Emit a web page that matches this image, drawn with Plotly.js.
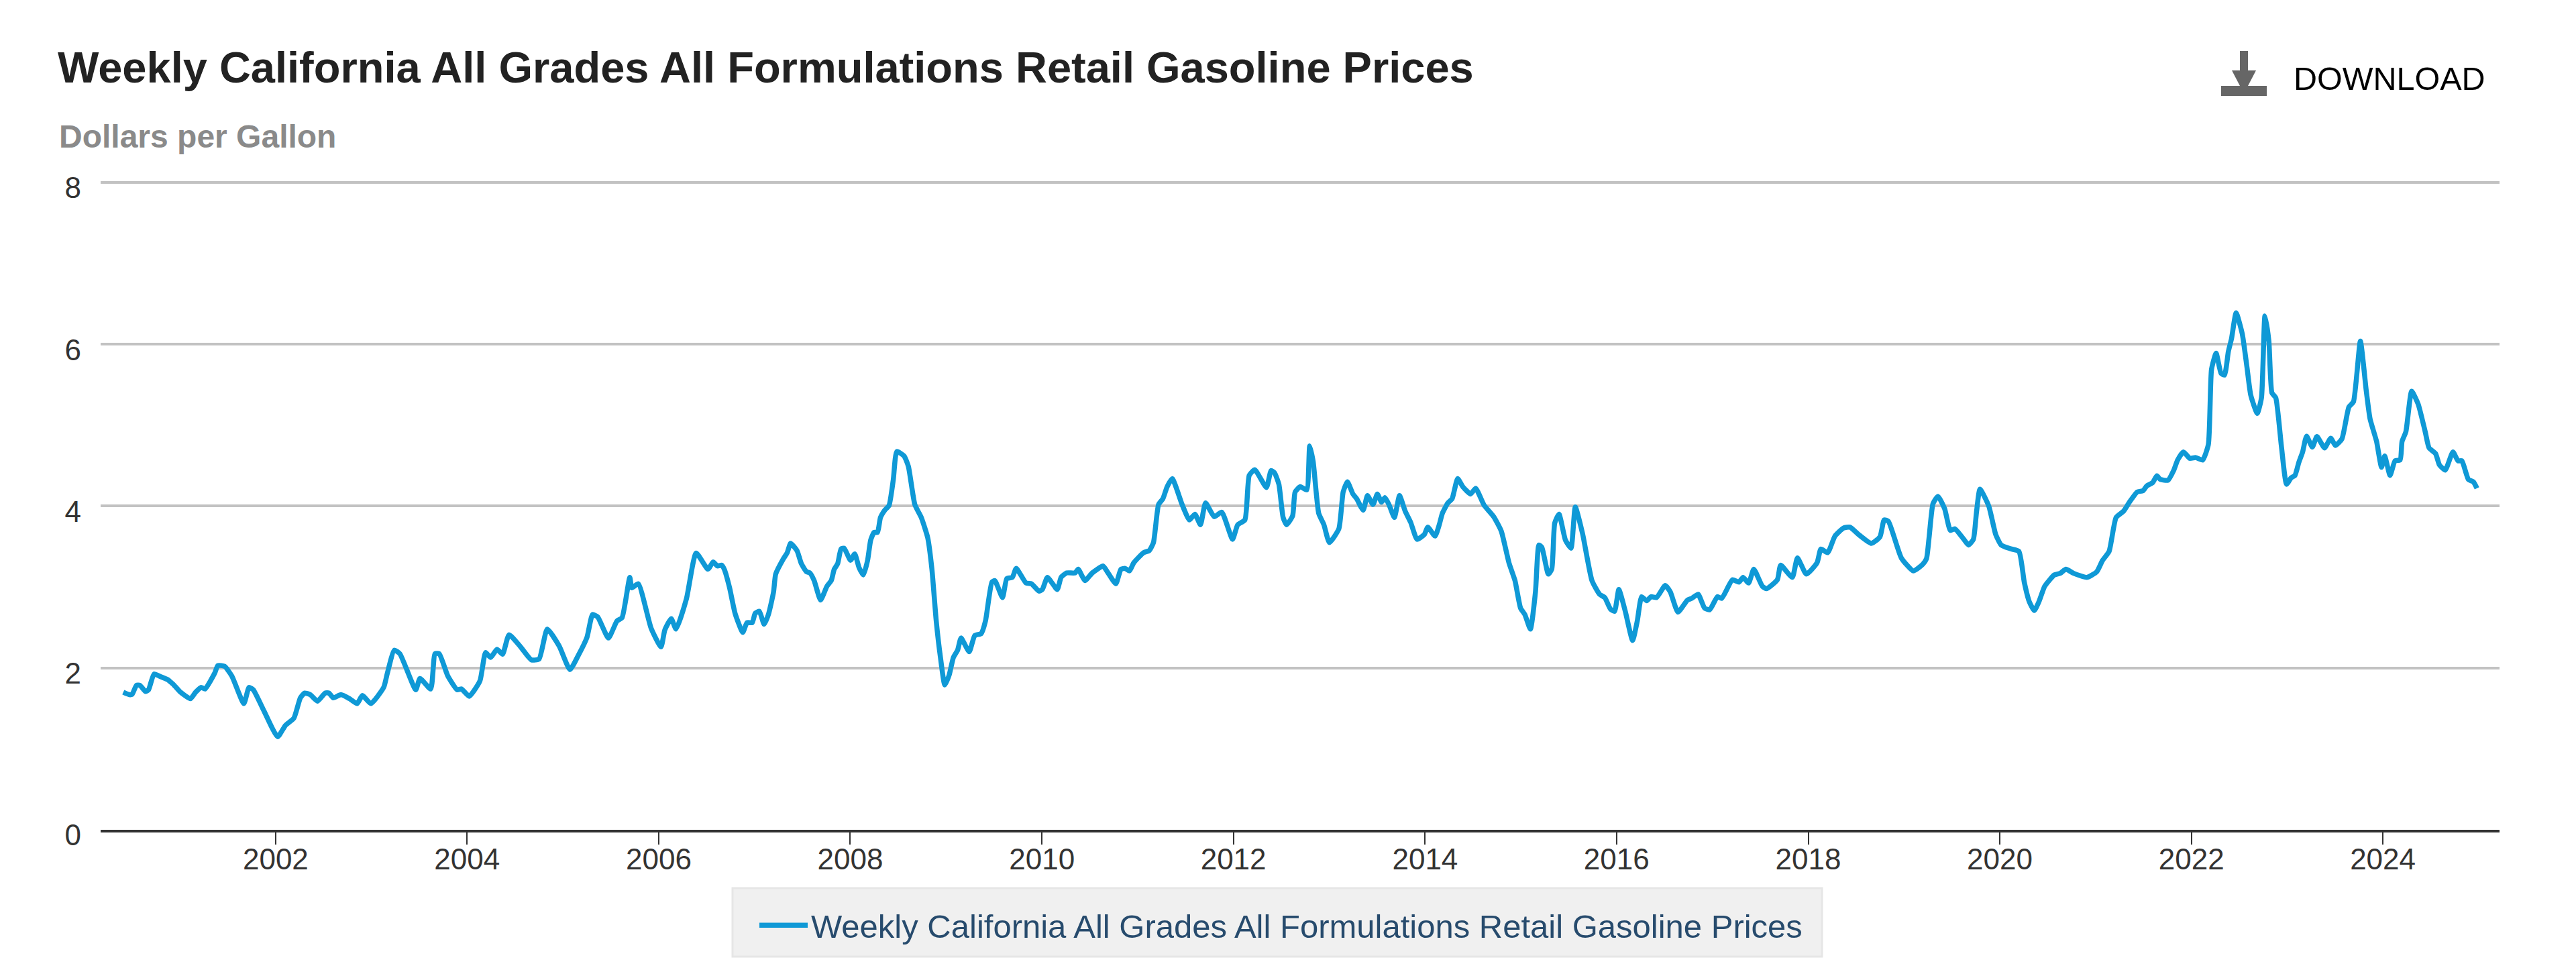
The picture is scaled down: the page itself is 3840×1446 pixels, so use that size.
<!DOCTYPE html>
<html><head><meta charset="utf-8">
<script src="https://cdn.plot.ly/plotly-3.0.1.min.js"></script>
<style>html,body{margin:0;padding:0;background:#fff}#c{width:3840px;height:1446px}</style>
</head><body><div id="c"></div>
<script>
const chartTitle = "Weekly California All Grades All Formulations Retail Gasoline Prices";
const unitLabel = "Dollars per Gallon";
const downloadLabel = "DOWNLOAD";
const yTicks = [0, 2, 4, 6, 8];
const readYears = [
2000.41,2000.472,2000.503,2000.547,2000.583,2000.641,2000.673,2000.73,2000.784,2000.874,2000.94,2001.007,2001.11,2001.164,2001.222,2001.262,2001.365,2001.396,2001.467,2001.543,2001.668,2001.722,2001.767,2001.878,2002.021,2002.102,2002.191,2002.258,2002.303,2002.361,2002.437,2002.517,2002.557,2002.602,2002.682,2002.772,2002.852,2002.906,2002.995,2003.129,2003.165,2003.24,2003.298,2003.464,2003.508,2003.62,2003.665,2003.709,2003.799,2003.897,2003.942,2004.022,2004.134,2004.192,2004.245,2004.312,2004.37,2004.437,2004.558,2004.67,2004.75,2004.835,2004.96,2005.072,2005.161,2005.25,2005.308,2005.362,2005.474,2005.563,2005.616,2005.697,2005.719,2005.786,2005.92,2006.023,2006.063,2006.13,2006.18,2006.29,2006.39,2006.514,2006.568,2006.613,2006.657,
2006.685,2006.739,2006.797,2006.877,2006.922,2006.976,2007.007,2007.051,2007.1,2007.145,2007.199,2007.221,2007.297,2007.342,2007.377,2007.444,2007.489,2007.543,2007.578,2007.623,2007.69,2007.757,2007.802,2007.833,2007.869,2007.904,2007.936,2008.003,2008.047,2008.092,2008.137,2008.181,2008.213,2008.248,2008.284,2008.315,2008.36,2008.405,2008.449,2008.485,2008.561,2008.606,2008.673,2008.74,2008.807,2008.851,2008.896,2008.94,2008.985,2009.03,2009.075,2009.119,2009.155,2009.24,2009.298,2009.365,2009.41,2009.477,2009.508,2009.588,2009.633,2009.691,2009.731,2009.834,2009.892,2009.968,2010.004,2010.057,2010.16,2010.2,2010.258,2010.347,2010.379,2010.45,2010.526,2010.638,2010.682,2010.772,2010.825,2010.87,2010.915,2010.959,2011.062,2011.12,2011.165,2011.218,2011.263,2011.308,2011.361,2011.464,2011.54,2011.598,2011.656,2011.709,2011.799,2011.879,2011.991,2012.045,2012.12,2012.165,2012.223,2012.344,2012.393,
2012.429,2012.474,2012.518,2012.554,2012.617,2012.643,2012.697,2012.764,2012.795,2012.831,2012.889,2012.943,2013.0,2013.099,2013.144,2013.188,2013.246,2013.286,2013.353,2013.398,2013.456,2013.501,2013.545,2013.581,2013.626,2013.679,2013.733,2013.791,2013.849,2013.916,2013.992,2014.028,2014.104,2014.148,2014.18,2014.238,2014.282,2014.34,2014.394,2014.475,2014.528,2014.617,2014.716,2014.796,2014.876,2014.939,2014.997,2015.042,2015.1,2015.153,2015.189,2015.22,2015.287,2015.323,2015.354,2015.399,2015.466,2015.524,2015.569,2015.645,2015.743,2015.823,2015.877,2015.935,2015.979,2016.024,2016.091,2016.167,2016.216,2016.261,2016.314,2016.359,2016.417,2016.507,2016.56,2016.64,2016.739,2016.783,2016.85,2016.917,2016.971,2017.051,2017.096,2017.208,2017.275,2017.319,2017.377,2017.431,2017.52,2017.565,2017.677,2017.712,2017.833,2017.887,2017.98,2018.092,2018.132,2018.203,2018.279,2018.369,2018.436,2018.525,2018.659,2018.749,2018.793,2018.838,2018.972,2019.097,2019.195,
2019.235,2019.263,2019.303,2019.355,2019.424,2019.484,2019.532,2019.625,2019.673,2019.725,2019.757,2019.794,2019.886,2019.958,2020.015,2020.107,2020.2,2020.256,2020.308,2020.36,2020.409,2020.469,2020.569,2020.63,2020.69,2020.77,2020.911,2021.012,2021.072,2021.14,2021.213,2021.293,2021.353,2021.434,2021.494,2021.534,2021.595,2021.639,2021.675,2021.755,2021.816,2021.856,2021.916,2021.984,2022.045,2022.117,2022.177,2022.21,2022.258,2022.31,2022.346,2022.386,2022.419,2022.467,2022.531,2022.58,2022.62,2022.688,2022.732,2022.768,2022.809,2022.841,2022.881,2022.941,2022.994,2023.042,2023.082,2023.122,2023.162,2023.203,2023.263,2023.311,2023.391,2023.456,2023.504,2023.572,2023.645,2023.693,2023.765,2023.826,2023.866,2023.934,2023.986,2024.019,2024.075,2024.127,2024.18,2024.2,2024.24,2024.3,2024.368,2024.441,2024.481,2024.549,2024.589,2024.65,2024.73,2024.783,2024.823,2024.891,2024.943,2024.98];
const prices = [
1.70,1.67,1.675,1.786,1.786,1.71,1.73,1.925,1.90,1.855,1.786,1.70,1.62,1.70,1.76,1.74,1.94,2.03,2.02,1.90,1.56,1.76,1.73,1.47,1.15,1.29,1.38,1.63,1.69,1.67,1.59,1.69,1.69,1.63,1.67,1.62,1.56,1.66,1.56,1.76,1.925,2.22,2.175,1.73,1.87,1.74,2.175,2.175,1.90,1.73,1.74,1.65,1.84,2.19,2.13,2.23,2.17,2.41,2.26,2.10,2.11,2.48,2.27,1.98,2.16,2.38,2.66,2.63,2.37,2.58,2.62,3.12,2.99,3.04,2.49,2.26,2.47,2.61,2.48,2.86,3.42,3.22,3.31,3.26,3.27,
3.217,2.994,2.675,2.44,2.56,2.56,2.675,2.70,2.54,2.66,2.94,3.16,3.34,3.425,3.54,3.45,3.29,3.19,3.175,3.08,2.84,3.01,3.08,3.22,3.29,3.47,3.48,3.33,3.41,3.24,3.15,3.33,3.58,3.675,3.675,3.86,3.95,4.01,4.33,4.675,4.62,4.49,4.02,3.86,3.61,3.22,2.58,2.13,1.79,1.91,2.13,2.22,2.37,2.20,2.40,2.425,2.58,3.06,3.08,2.87,3.105,3.12,3.23,3.05,3.04,2.95,2.97,3.12,2.97,3.12,3.175,3.175,3.22,3.08,3.175,3.26,3.19,3.04,3.22,3.23,3.20,3.30,3.425,3.45,3.55,4.02,4.09,4.24,4.34,4.02,3.83,3.90,3.77,4.04,3.87,3.925,3.59,3.77,3.83,4.38,4.45,4.23,4.44,
4.41,4.27,3.86,3.77,3.88,4.175,4.24,4.20,4.745,4.55,3.91,3.77,3.55,3.72,4.175,4.30,4.15,4.09,3.95,4.13,4.02,4.15,4.05,4.105,4.01,3.86,4.13,3.94,3.80,3.59,3.65,3.74,3.63,3.77,3.91,4.04,4.09,4.34,4.24,4.15,4.22,4.01,3.87,3.69,3.30,3.08,2.74,2.66,2.48,2.94,3.52,3.49,3.16,3.22,3.79,3.90,3.58,3.48,3.99,3.66,3.08,2.91,2.87,2.73,2.70,2.97,2.70,2.34,2.58,2.88,2.83,2.88,2.87,3.02,2.94,2.69,2.84,2.86,2.91,2.74,2.72,2.88,2.86,3.09,3.06,3.12,3.05,3.22,3.01,2.98,3.09,3.27,3.12,3.36,3.16,3.30,3.47,3.425,3.63,3.73,3.74,3.65,3.54,3.62,3.83,3.81,3.36,3.20,3.28,
3.35,3.62,4.03,4.12,3.97,3.70,3.72,3.59,3.52,3.59,3.92,4.21,4.00,3.65,3.52,3.475,3.44,3.06,2.82,2.71,2.82,3.01,3.15,3.17,3.22,3.17,3.12,3.19,3.33,3.44,3.86,3.94,4.05,4.175,4.19,4.25,4.29,4.375,4.33,4.32,4.445,4.57,4.67,4.59,4.60,4.57,4.76,5.69,5.89,5.64,5.62,5.91,6.07,6.39,6.13,5.72,5.37,5.145,5.34,6.35,6.04,5.40,5.34,4.73,4.27,4.35,4.38,4.54,4.67,4.865,4.73,4.86,4.72,4.84,4.75,4.83,5.225,5.29,6.04,5.43,5.08,4.80,4.48,4.62,4.38,4.56,4.57,4.80,4.92,5.42,5.26,4.92,4.72,4.65,4.51,4.445,4.67,4.56,4.56,4.33,4.30,4.22];

const LEFT = 150, RIGHT = 3726, TOP = 268, BOTTOM = 1237;
const toDate = y => { const yr = Math.floor(y); const a = Date.UTC(yr,0,1), b = Date.UTC(yr+1,0,1);
  return new Date(a + (y-yr)*(b-a)).toISOString().slice(0,19).replace('T',' '); };
const px = X => (X-LEFT)/(RIGHT-LEFT), py = Y => (BOTTOM-Y)/(BOTTOM-TOP);
const iconPath = [[3339,76],[3351,76],[3351,105],[3363,105],[3351,128],[3379,128],[3379,143],[3311,143],[3311,128],[3339,128],[3327,105],[3339,105]];
const boxX = [1092,2716], boxY = [1324,1426];
const trace = { x: readYears.map(toDate), y: prices, type:'scatter', mode:'lines', name: chartTitle,
  line:{color:'#0f99d6', width:7.5, shape:'spline', smoothing:0.5}, hoverinfo:'x+y' };
const font = 'Liberation Sans, Arial, sans-serif';
const layout = {
  width:3840, height:1446, paper_bgcolor:'#fff', plot_bgcolor:'#fff',
  margin:{l:LEFT, r:3840-RIGHT, t:TOP, b:1446-BOTTOM, pad:0},
  font:{family:font, color:'#333'},
  title:{text:'<b>'+chartTitle+'</b>', x:86/3840, xref:'container', xanchor:'left', y:1-100/1446, yref:'container', yanchor:'middle', font:{family:font,size:65,color:'#222'}, pad:{}},
  xaxis:{type:'date', range:[toDate(2000.174), toDate(2025.216)], tick0:'2002-01-01', dtick:'M24', tickformat:'%Y',
    showgrid:false, showline:true, linecolor:'#333', linewidth:4, ticks:'outside', ticklen:18, tickwidth:2, tickcolor:'#333',
    tickfont:{family:font,size:44,color:'#333'}, ticklabelstandoff:-16, automargin:false},
  yaxis:{range:[0,8.033], tickvals:yTicks, ticktext:yTicks.map(String), showgrid:true, gridcolor:'#c2c2c2', gridwidth:4, zeroline:false, showline:false,
    ticks:'', tickfont:{family:font,size:44,color:'#333'}, ticklabelstandoff:28, ticklabelshift:8, automargin:false},
  showlegend:true,
  legend:{orientation:'h', x:px(1127), xanchor:'left', xref:'paper', y:py(1341), yanchor:'top', yref:'paper',
    bgcolor:'rgba(0,0,0,0)', borderwidth:0, font:{family:font,size:49,color:'#274b6d'}, itemwidth:72},
  annotations:[
    {text:'<b>'+unitLabel+'</b>', xref:'paper', yref:'paper', x:px(86), y:py(203), xanchor:'left', yanchor:'middle', showarrow:false, font:{family:font,size:48,color:'#8a8a8a'}},
    {text:downloadLabel, xref:'paper', yref:'paper', x:px(3417), y:py(117), xanchor:'left', yanchor:'middle', showarrow:false, font:{family:font,size:48.5,color:'#000'}}
  ],
  shapes:[
   {type:'path', xref:'paper', yref:'paper', fillcolor:'#666', line:{width:0},
    path:'M'+iconPath.map(p=>px(p[0])+','+py(p[1])).join(' L')+' Z'},
   {type:'rect', xref:'paper', yref:'paper', layer:'below', x0:px(boxX[0]), x1:px(boxX[1]), y0:py(boxY[0]), y1:py(boxY[1]), fillcolor:'#f0f0f0', line:{color:'#e6e6e6', width:3}}
  ]
};
Plotly.newPlot('c',[trace],layout,{displayModeBar:false,responsive:false});
</script></body></html>
